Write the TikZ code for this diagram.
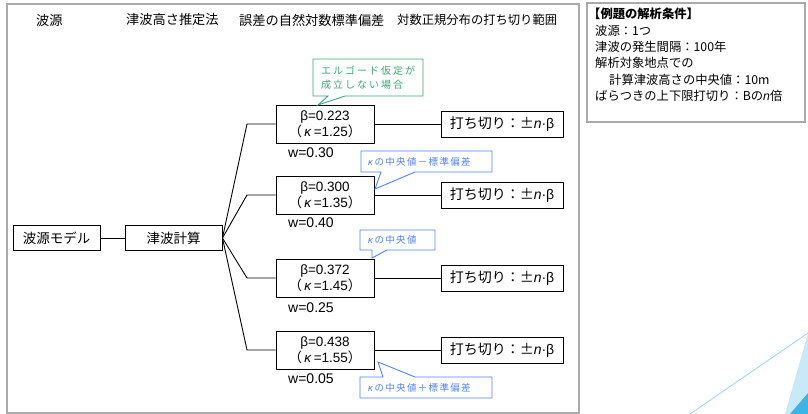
\documentclass[tikz,border=0pt]{standalone}
\usepackage{fontspec}
\setmainfont{Liberation Sans}
\newfontfamily\lib{Liberation Sans}
\newfontfamily\jp{Noto Sans CJK JP}
\newfontfamily\jpg[LetterSpace=20]{Noto Sans CJK JP}
\newfontfamily\jpb[LetterSpace=14]{Noto Sans CJK JP}
\definecolor{framegray}{RGB}{170,170,170}
\definecolor{calgreen}{RGB}{60,168,115}
\definecolor{calblue}{RGB}{80,130,255}
\definecolor{decoline}{RGB}{150,215,240}
\definecolor{decolight}{RGB}{200,234,248}
\definecolor{decodark}{RGB}{60,180,228}
\begin{document}
\begin{tikzpicture}[x=1pt,y=-1pt,
  frame/.style={draw=framegray, line width=1.4pt},
  box/.style={draw, line width=0.9pt, inner sep=0pt, align=center},
  modelbox/.style={box, minimum height=25pt, font=\jp\fontsize{13.5}{15}\selectfont},
  betabox/.style={box, minimum width=98pt, minimum height=38pt, font=\fontsize{13.5}{16}\selectfont},
  cutbox/.style={box, minimum width=122pt, minimum height=26pt, font=\fontsize{14}{15}\selectfont},
  wlabel/.style={anchor=west, inner sep=0pt, font=\fontsize{14}{16}\selectfont},
  header/.style={anchor=west, inner sep=0pt, font=\jp\fontsize{13.2}{14}\selectfont},
  info/.style={anchor=west, inner sep=0pt, font=\jp\fontsize{12.3}{14}\selectfont},
  link/.style={line width=0.9pt},
  greencall/.style={draw=calgreen, fill=white, line width=0.9pt},
  bluecall/.style={draw=calblue, fill=white, line width=0.9pt},
  greentext/.style={anchor=west, inner sep=0pt, align=left, text=calgreen, font=\jpg\fontsize{10}{14}\selectfont},
  bluetext/.style={anchor=west, inner sep=0pt, text=calblue, font=\jpb\fontsize{9.5}{10}\selectfont}
]
\useasboundingbox (0,0) rectangle (808,414);

% decoration
\fill[decolight] (785,414) -- (808,333) -- (808,414) -- cycle;
\fill[decodark] (790,414) -- (808,393) -- (808,414) -- cycle;
\draw[decoline, line width=0.8pt] (690,414) -- (808,333);

% frames
\draw[frame] (7,4) rectangle (579,413);
\draw[frame] (587,3) rectangle (805,122);

% headers
\node[header] (h1) at (36,20) {波源};
\node[header] (h2) at (126,20) {津波高さ推定法};
\node[header] (h3) at (239,20) {誤差の自然対数標準偏差};
\node[header, font=\jp\fontsize{12.3}{14}\selectfont] (h4) at (397,20) {対数正規分布の打ち切り範囲};

% info box
\node[info, font=\jp\bfseries\fontsize{12.3}{14}\selectfont] (i1) at (588,14) {【例題の解析条件】};
\node[info] (i2) at (595,31) {波源：1つ};
\node[info] (i3) at (595,47) {津波の発生間隔：100年};
\node[info] (i4) at (595,63) {解析対象地点での};
\node[info] (i5) at (609,80) {計算津波高さの中央値：10m};
\node[info] (i6) at (595,96) {ばらつきの上下限打切り：Bの{\lib\itshape n}倍};

% model boxes
\node[modelbox, minimum width=87pt] (src) at (56.5,238) {波源モデル};
\node[modelbox, minimum width=97pt] (calc) at (173.5,238) {津波計算};
\draw[link] (src.east) -- (calc.west);

% beta boxes
\node[betabox] (b1) at (325,124) {β=0.223\\{\jp （}\,\textit{κ}\,=1.25{\jp ）}};
\node[betabox] (b2) at (325,195) {β=0.300\\{\jp （}\,\textit{κ}\,=1.35{\jp ）}};
\node[betabox] (b3) at (325,278) {β=0.372\\{\jp （}\,\textit{κ}\,=1.45{\jp ）}};
\node[betabox] (b4) at (325,350) {β=0.438\\{\jp （}\,\textit{κ}\,=1.55{\jp ）}};

\coordinate (j1) at (247,124);
\coordinate (j2) at (247,195);
\coordinate (j3) at (247,278);
\coordinate (j4) at (247,350);
\draw[link] (calc.east) -- (j1) -- (b1.west);
\draw[link] (calc.east) -- (j2) -- (b2.west);
\draw[link] (calc.east) -- (j3) -- (b3.west);
\draw[link] (calc.east) -- (j4) -- (b4.west);

% weights
\node[wlabel] (w1) at (288,153) {w=0.30};
\node[wlabel] (w2) at (288,223) {w=0.40};
\node[wlabel] (w3) at (288,308) {w=0.25};
\node[wlabel] (w4) at (288,379) {w=0.05};

% cutoff boxes
\node[cutbox] (c1) at (502,124) {{\jp 打ち切り：±}\textit{n}·β};
\node[cutbox] (c2) at (502,195) {{\jp 打ち切り：±}\textit{n}·β};
\node[cutbox] (c3) at (502,278) {{\jp 打ち切り：±}\textit{n}·β};
\node[cutbox] (c4) at (502,350) {{\jp 打ち切り：±}\textit{n}·β};
\draw[link] (b1.east) -- (c1.west);
\draw[link] (b2.east) -- (c2.west);
\draw[link] (b3.east) -- (c3.west);
\draw[link] (b4.east) -- (c4.west);

% callouts
\draw[greencall] (313,59) -- (423,59) -- (423,96) -- (345,96) -- (318,105) -- (328,96) -- (313,96) -- cycle;
\node[greentext] (g1) at (321,77.5) {エルゴード仮定が\\成立しない場合};

\draw[bluecall] (361,151) -- (492,151) -- (492,172) -- (415,172) -- (375,189) -- (381,172) -- (361,172) -- cycle;
\node[bluetext] (l1) at (368,161.5) {{\lib\itshape κ}\,の中央値－標準偏差};

\draw[bluecall] (360,230) -- (435,230) -- (435,250) -- (387,250) -- (372,258) -- (372,250) -- (360,250) -- cycle;
\node[bluetext] (l2) at (368,240) {{\lib\itshape κ}\,の中央値};

\draw[bluecall] (360,377) -- (383,377) -- (378,362) -- (415,377) -- (492,377) -- (492,398) -- (360,398) -- cycle;
\node[bluetext] (l3) at (368,387.5) {{\lib\itshape κ}\,の中央値＋標準偏差};
\end{tikzpicture}
\end{document}
